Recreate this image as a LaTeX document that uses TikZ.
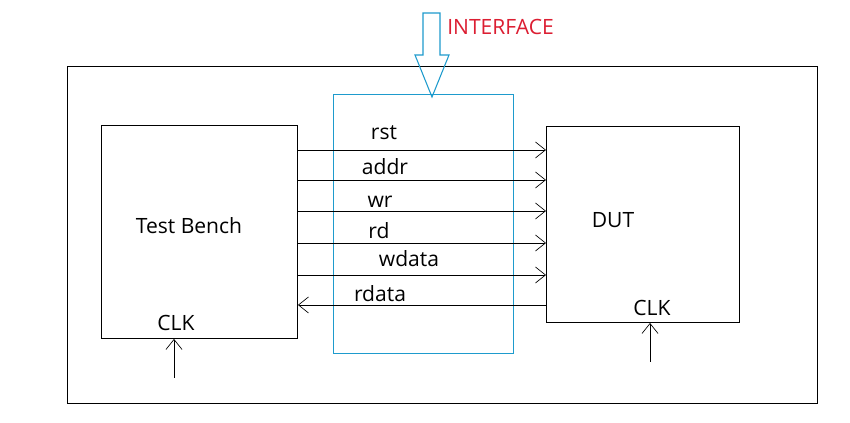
\documentclass[tikz,border=0pt]{standalone}
\usepackage{fontspec}
\setmainfont{Open Sans}
\usetikzlibrary{arrows.meta,positioning}
\definecolor{intfblue}{RGB}{30,155,205}
\definecolor{intfred}{RGB}{220,30,50}

\begin{document}
\begin{tikzpicture}[x=0.75pt,y=-0.75pt,
    block/.style={draw,line width=0.7pt,rectangle,anchor=north west,inner sep=0pt},
    sig/.style={line width=0.7pt,-{Straight Barb[length=7.5pt,width=12pt,line width=0.5pt]}},
    txt/.style={font=\fontsize{15.8}{18}\selectfont,inner sep=0pt}]
    \useasboundingbox (0,0) rectangle (850,423);
    \fill[white] (0,0) rectangle (850,423);

    \node[block] (outer) at (67,66) [minimum width=562.5pt,minimum height=252.75pt] {};
    \node[block] (tb) at (101,125) [minimum width=147pt,minimum height=159.75pt] {};
    \node[block] (dut) at (546,126) [minimum width=144.75pt,minimum height=147pt] {};
    \node[block,draw=intfblue,line width=0.8pt] (intf) at (333,94) [minimum width=135pt,minimum height=194.25pt] {};

    \node[txt] (tbname) at (189,226) {Test Bench};
    \node[txt] (dutname) at (613,220) {DUT};

    % interface arrow
    \draw[intfblue,line width=0.8pt] (423,13) -- (440,13) -- (440,55) -- (449,55)
        -- (432,97) -- (415,55) -- (423,55) -- cycle;
    \node[txt,text=intfred,anchor=west] (intfname) at (447,27) {INTERFACE};

    % signals
    \foreach \y/\name/\lx/\ly in {150/rst/384/133, 180/addr/385/167, 211/wr/380/202,
        243/rd/379/231, 275/wdata/409/259}{
        \draw[sig] (tb.east |- 0,\y) -- (dut.west |- 0,\y);
        \node[txt] (lbl-\name) at (\lx,\ly) {\name};
    }
    \draw[sig] (dut.west |- 0,305) -- (tb.east |- 0,305);
    \node[txt] (lbl-rdata) at (380,294) {rdata};

    % clocks
    \node[txt] (tbclk) at (176,323) {CLK};
    \node[txt] (dutclk) at (652,308) {CLK};
    \coordinate (tbclkin) at (174,378);
    \coordinate (dutclkin) at (650,362);
    \draw[sig] (tbclkin) -- (tbclkin |- tb.south);
    \draw[sig] (dutclkin) -- (dutclkin |- dut.south);
\end{tikzpicture}
\end{document}
